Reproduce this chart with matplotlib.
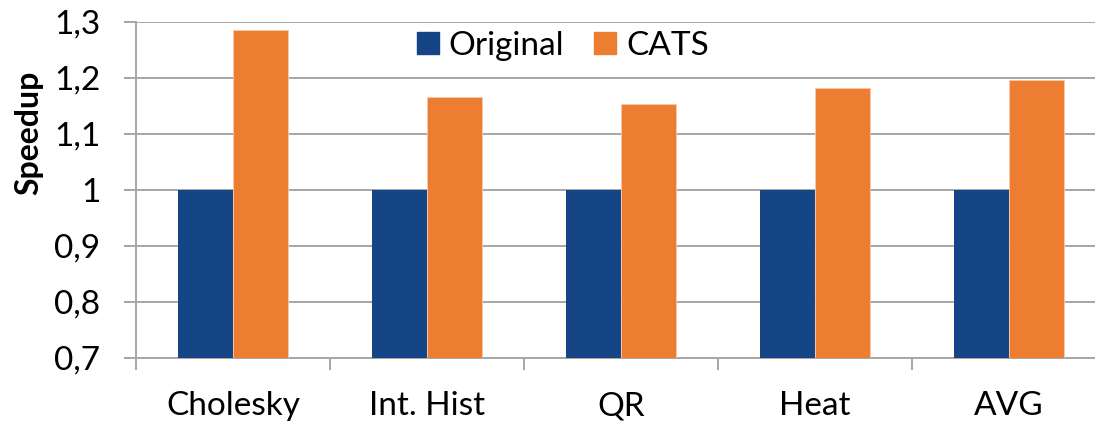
import matplotlib
matplotlib.use("Agg")
import matplotlib.pyplot as plt
from matplotlib.ticker import FuncFormatter, FixedLocator
from matplotlib.patches import Patch
import numpy as np

categories = ["Cholesky", "Int. Hist", "QR", "Heat", "AVG"]
original = [1.0, 1.0, 1.0, 1.0, 1.0]
cats = [1.286, 1.166, 1.154, 1.182, 1.196]
series_names = ["Original", "CATS"]
yticks = [0.7, 0.8, 0.9, 1.0, 1.1, 1.2, 1.3]

BLUE = "#154585"
ORANGE = "#ED7D31"
GRID = "#A6A6A6"

plt.rcParams["font.family"] = ["Lato", "DejaVu Sans"]

W, H = 1095, 422
fig = plt.figure(figsize=(W / 100, H / 100), dpi=100)
ax = fig.add_axes([136 / W, 64 / H, 970 / W, 336 / H])

x = np.arange(len(categories))
bw = 0.283
ax.bar(x - bw / 2, np.array(original) - 0.7, bw, bottom=0.7, color=BLUE, zorder=3)
ax.bar(x + bw / 2, np.array(cats) - 0.7, bw, bottom=0.7, color=ORANGE,
       edgecolor="#F7C9A8", linewidth=0.6, zorder=3)

ax.set_xlim(-0.5, len(categories) - 0.5)
ax.set_ylim(0.7, 1.3)
ax.set_yticks(yticks)
ax.yaxis.set_major_formatter(FuncFormatter(lambda v, p: f"{v:g}".replace(".", ",")))
ax.grid(axis="y", color=GRID, linewidth=1.4, zorder=0)

ax.set_xticks(x)
ax.set_xticklabels(categories)
ax.xaxis.set_minor_locator(FixedLocator(np.arange(-0.5, len(categories), 1.0)))
ax.tick_params(axis="x", which="major", length=0, pad=24, labelsize=24)
ax.tick_params(axis="x", which="minor", length=8.6, width=1.4, color=GRID)
ax.tick_params(axis="y", length=8.6, width=1.4, color=GRID, pad=17, labelsize=24)

for s in ["top", "right"]:
    ax.spines[s].set_visible(False)
for s in ["left", "bottom"]:
    ax.spines[s].set_color(GRID)
    ax.spines[s].set_linewidth(1.4)

fig.text(29 / W, 1 - 133 / H, "Speedup", rotation=90, ha="center", va="center",
         fontsize=23, fontweight="bold")

handles = [Patch(color=BLUE), Patch(color=ORANGE)]
fig.legend(handles, series_names, loc="center", bbox_to_anchor=(563 / W, 1 - 46 / H),
           ncol=2, frameon=False, fontsize=24, handlelength=0.65, handleheight=0.65,
           handletextpad=0.3, columnspacing=0.9)

fig.savefig("out.png", dpi=100)
